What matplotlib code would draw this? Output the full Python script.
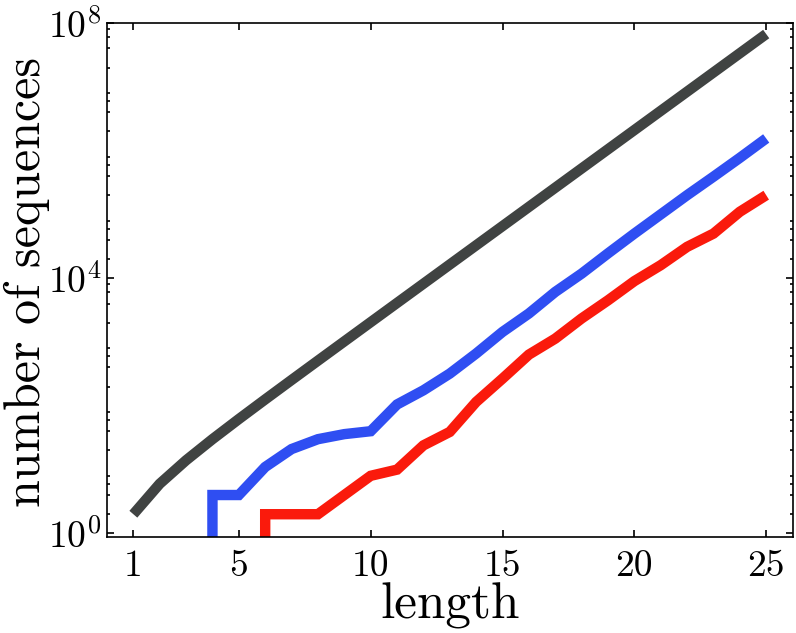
import matplotlib
matplotlib.use('Agg')
import matplotlib.pyplot as plt
from matplotlib.ticker import FixedLocator, LogFormatterSciNotation, NullFormatter

plt.rcParams['font.family'] = 'serif'
plt.rcParams['font.serif'] = ['cmr10']
plt.rcParams['mathtext.fontset'] = 'cm'
plt.rcParams['axes.unicode_minus'] = False
plt.rcParams['axes.formatter.use_mathtext'] = True

# values
length = list(range(1, 26))
total = [2, 6, 14, 30, 62, 126, 254, 510, 1022, 2046, 4094, 8190, 16382,
         32766, 65534, 131070, 262142, 524286, 1048574, 2097150, 4194302,
         8388606, 16777214, 33554430, 67108862]
blue_counts = [0, 0, 0, 4, 4, 11, 21, 30, 36, 40, 105, 175, 320, 660, 1440,
               2800, 6100, 11800, 24500, 50000, 100000, 200000, 390000,
               770000, 1550000]
red_counts = [0, 0, 0, 0, 0, 2, 2, 2, 4, 8, 10, 24, 39, 115, 267, 635, 1130,
              2340, 4500, 9000, 16000, 31000, 50000, 110000, 200000]

xticks = [1, 5, 10, 15, 20, 25]
yticks = [1, 1e4, 1e8]

fig = plt.figure(figsize=(7.96, 6.33), dpi=100)
ax = fig.add_axes([0.1344, 0.1517, 0.8613, 0.8120])

lw = 7.5
ax.plot(length, total, color='#404342', lw=lw, solid_capstyle='butt', solid_joinstyle='miter')
ax.plot(length, blue_counts, color='#2f4ef2', lw=lw, solid_capstyle='butt', solid_joinstyle='miter')
ax.plot(length, red_counts, color='#fa1a0c', lw=lw, solid_capstyle='butt', solid_joinstyle='miter')

ax.set_yscale('log', nonpositive='clip')
ax.set_xlim(0, 26)
ax.set_ylim(0.88, 1e8)

ax.set_xticks(xticks)
ax.set_xticklabels([str(v) for v in xticks])
ax.yaxis.set_major_locator(FixedLocator(yticks))
ax.yaxis.set_major_formatter(LogFormatterSciNotation())
minor = [s * 10 ** k for k in range(8) for s in (2, 4, 6, 8)]
ax.yaxis.set_minor_locator(FixedLocator(minor))
ax.yaxis.set_minor_formatter(NullFormatter())

ax.tick_params(which='both', direction='in', top=True, right=True, width=1.2)
ax.tick_params(which='major', length=5, labelsize=27)
ax.tick_params(which='minor', length=2.5)
ax.tick_params(axis='x', pad=9)
ax.tick_params(axis='y', pad=4)

for s in ax.spines.values():
    s.set_linewidth(1.2)

ax.set_xlabel('length', fontsize=37)
ax.xaxis.set_label_coords(0.5, -0.088)
ax.set_ylabel('number of sequences', fontsize=36)
ax.yaxis.set_label_coords(-0.083, 0.496)

fig.savefig('out.png', dpi=100)
